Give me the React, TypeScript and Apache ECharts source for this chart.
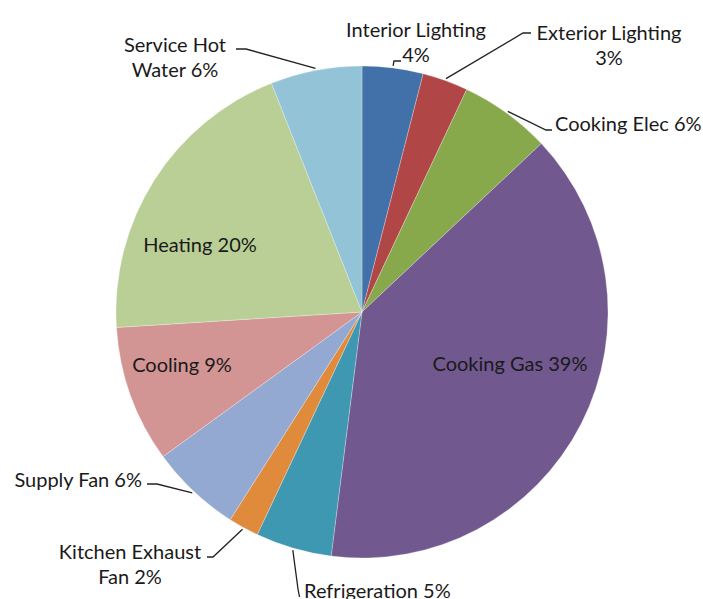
import React, { useEffect, useRef } from "react";
import * as echarts from "echarts";

const categories = [
  "Interior Lighting",
  "Exterior Lighting",
  "Cooking Elec",
  "Cooking Gas",
  "Refrigeration",
  "Kitchen Exhaust Fan",
  "Supply Fan",
  "Cooling",
  "Heating",
  "Service Hot Water",
];
const shares = [4, 3, 6, 39, 5, 2, 6, 9, 20, 6];
const colors = [
  "#4270A8",
  "#B04645",
  "#88A84C",
  "#71588F",
  "#3F98B2",
  "#E08A3C",
  "#93A9D2",
  "#D39594",
  "#B9CF96",
  "#93C3D6",
];
// where a label wraps onto a second line
const labelText = (name: string, v: number) => {
  const t = `${name} ${v}%`;
  if (name === "Interior Lighting" || name === "Exterior Lighting") return `${name}\n${v}%`;
  if (name === "Service Hot Water") return `Service Hot\nWater ${v}%`;
  if (name === "Kitchen Exhaust Fan") return `Kitchen Exhaust\nFan ${v}%`;
  return t;
};
const insideLabels = ["Cooking Gas", "Cooling", "Heating"];

// label placement: anchor, alignment, and the leader line's points after the slice anchor
const labelPlacement: Record<string, any> = {
  "Interior Lighting": { x: 416, y: 41, align: "center", line: [[394, 61], [401, 61]] },
  "Exterior Lighting": { x: 609, y: 44, align: "center", line: [[523, 33], [531, 33]] },
  "Cooking Elec": { x: 555, y: 123, align: "left", line: [[546, 130], [552, 130]] },
  "Cooking Gas": { x: 510, y: 363, align: "center" },
  Refrigeration: { x: 304, y: 590, align: "left", line: [[298, 589], [299.5, 597]] },
  "Kitchen Exhaust Fan": { x: 130, y: 563, align: "center", line: [[213, 557], [207, 557]] },
  "Supply Fan": { x: 142, y: 479, align: "right", line: [[157, 484], [147, 484]] },
  Cooling: { x: 182, y: 364, align: "center" },
  Heating: { x: 200, y: 244, align: "center" },
  "Service Hot Water": { x: 175, y: 56, align: "center", line: [[246, 49], [236, 49]] },
};

export default function App() {
  const ref = useRef<HTMLDivElement>(null);
  useEffect(() => {
    if (!ref.current) return;
    const chart = echarts.init(ref.current, undefined, { renderer: "svg" });
    const data = categories.map((name, i) => {
      const inside = insideLabels.includes(name);
      return {
        name,
        value: shares[i],
        itemStyle: { color: colors[i] },
        label: { position: inside ? "inside" : "outside" },
        labelLine: { show: !inside },
      };
    });
    chart.setOption({
      animation: false,
      backgroundColor: "#ffffff",
      series: [
        {
          type: "pie",
          center: [362, 312],
          radius: 246,
          startAngle: 90,
          clockwise: true,
          avoidLabelOverlap: false,
          data,
          itemStyle: { borderColor: "rgba(255,255,255,0.45)", borderWidth: 0.6 },
          label: {
            show: true,
            fontFamily: "Lato",
            fontSize: 20,
            lineHeight: 25,
            color: "#1a1a1a",
            formatter: (p: any) => labelText(p.name, p.value),
          },
          labelLine: {
            show: true,
            length: 10,
            length2: 10,
            smooth: false,
            lineStyle: { color: "#222222", width: 1.3 },
          },
          labelLayout: (params: any) => {
            const name = categories[params.dataIndex];
            const pl = labelPlacement[name];
            const res: any = {
              x: pl.x,
              y: pl.y,
              align: pl.align,
              verticalAlign: "middle",
            };
            if (pl.line && params.labelLinePoints) {
              const p0 = params.labelLinePoints[0];
              const p1 = params.labelLinePoints[1];
              const dx = p1[0] - p0[0];
              const dy = p1[1] - p0[1];
              const len = Math.sqrt(dx * dx + dy * dy) || 1;
              const start = [p0[0] + (dx / len) * 2, p0[1] + (dy / len) * 2];
              res.labelLinePoints = [start, pl.line[0], pl.line[1]];
            }
            return res;
          },
        },
      ],
    });
    return () => chart.dispose();
  }, []);
  return (
    <div
      ref={ref}
      style={{ position: "fixed", left: 0, top: 0, width: 703, height: 599 }}
    />
  );
}
